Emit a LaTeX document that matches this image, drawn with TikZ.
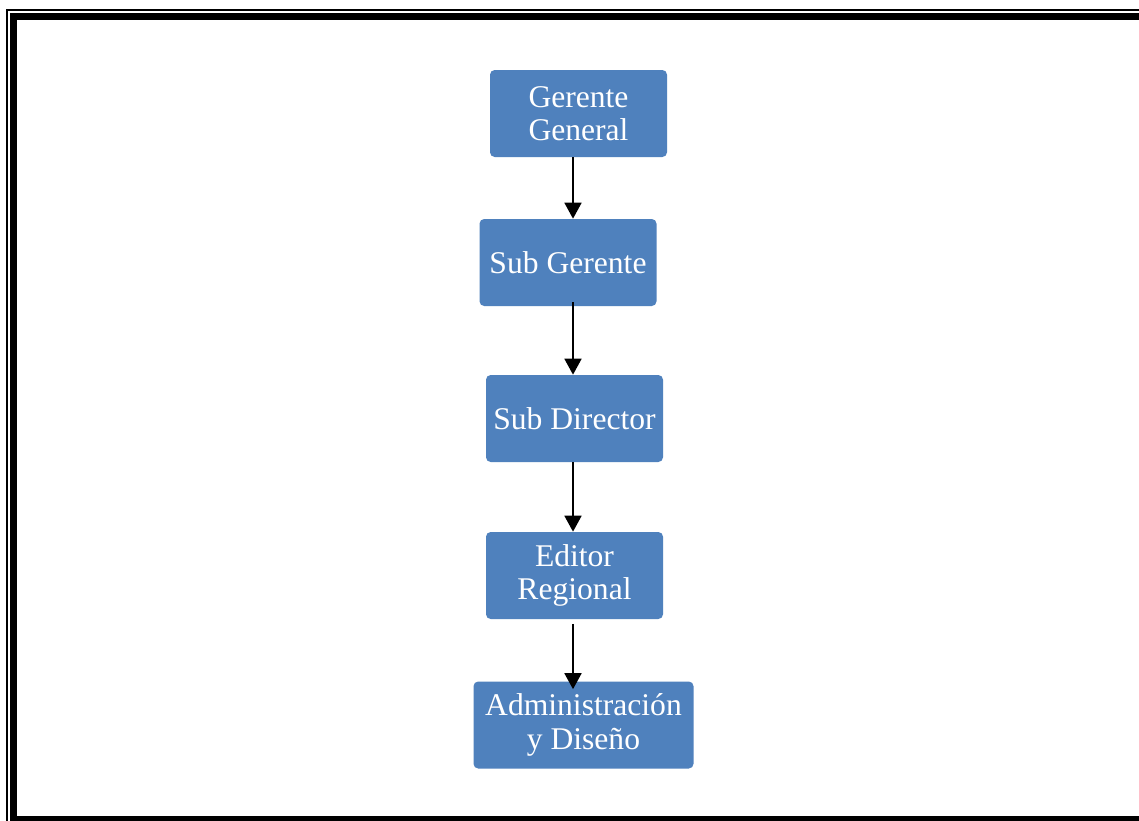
\documentclass[tikz,border=0pt]{standalone}
\usepackage{fontspec}
\setmainfont{Liberation Serif}
\usetikzlibrary{arrows.meta}
\tikzset{
  orgbox/.style={fill=boxblue, draw=none, rounded corners=3.5pt, text=white,
    align=center, inner sep=0pt, minimum height=65.25pt,
    font=\fontsize{23.7}{25}\selectfont},
  arr/.style={line width=2pt, -{Triangle[width=12.5pt,length=12pt]}}
}
\definecolor{boxblue}{HTML}{4F81BD}
\begin{document}
\begin{tikzpicture}[x=0.75pt,y=-0.75pt]
\clip (0,0) rectangle (1139,821);
\fill[white] (0,0) rectangle (1139,821);
% frame
\draw[line width=1.1pt] (7,10) rectangle (1152,828);
\draw[line width=4.6pt] (13.5,16.5) rectangle (1145,819.5);
% boxes
\node[orgbox, minimum width=132.75pt] (gg) at (578.5,113.5) {Gerente\\General};
\node[orgbox, minimum width=132.75pt] (sg) at (568,262.5) {Sub Gerente};
\node[orgbox, minimum width=132.75pt] (sd) at (574.5,418.5) {Sub Director};
\node[orgbox, minimum width=132.75pt] (er) at (574.5,575.5) {Editor\\Regional};
\node[orgbox, minimum width=165pt] (ad) at (583.5,725) {Administración\\y Diseño};
\coordinate (axis) at (573,0);
% arrows
\draw[arr] (gg.south -| axis) -- (sg.north -| axis);
\draw[arr] ([yshift=3pt]sg.south -| axis) -- (sd.north -| axis);
\draw[arr] (sd.south -| axis) -- (er.north -| axis);
\draw[arr] ([yshift=-3.5pt]er.south -| axis) -- ([yshift=-6pt]ad.north -| axis);
\end{tikzpicture}
\end{document}
